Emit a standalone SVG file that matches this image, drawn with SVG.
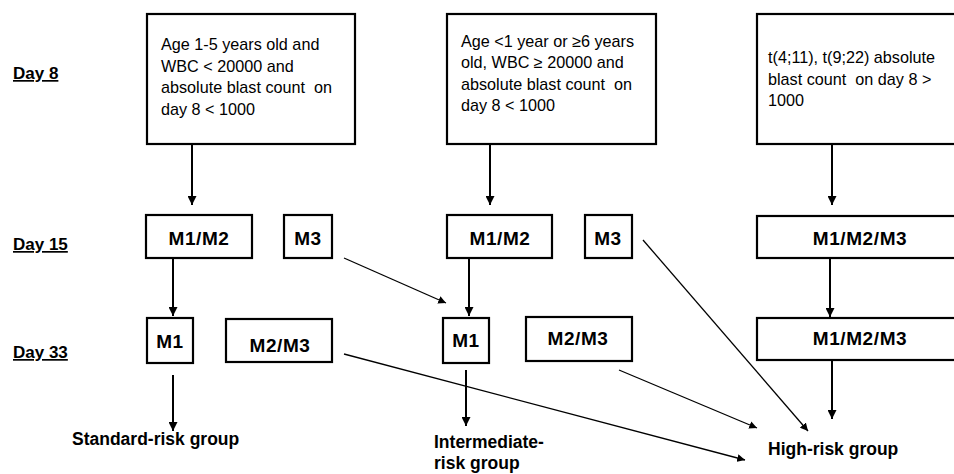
<svg xmlns="http://www.w3.org/2000/svg" width="954" height="474" viewBox="0 0 954 474">
<style>
.box{fill:#fff;stroke:#000;stroke-width:2.2}
.t{font-family:"Liberation Sans",Arial,sans-serif;font-size:16.2px;fill:#000;white-space:pre}
.b{font-family:"Liberation Sans",Arial,sans-serif;font-size:19px;font-weight:bold;fill:#000;text-anchor:middle;letter-spacing:0.6px}
.g{font-family:"Liberation Sans",Arial,sans-serif;font-size:17.5px;font-weight:bold;fill:#000}
.day{font-family:"Liberation Sans",Arial,sans-serif;font-size:17px;font-weight:bold;fill:#000;text-decoration:underline}
.thick{stroke:#000;stroke-width:2;fill:none;marker-end:url(#ah)}
.thin{stroke:#000;stroke-width:1.3;fill:none;marker-end:url(#ah2)}
</style>
<defs>
<marker id="ah" viewBox="0 0 10 10" refX="10" refY="5" markerWidth="4.5" markerHeight="4.5" orient="auto" markerUnits="strokeWidth">
<path d="M0,0 L10,5 L0,10 z" fill="#000"/>
</marker>
<marker id="ah2" viewBox="0 0 10 10" refX="10" refY="5" markerWidth="6" markerHeight="6" orient="auto" markerUnits="strokeWidth">
<path d="M0,0 L10,5 L0,10 z" fill="#000"/>
</marker>
</defs>
<rect width="954" height="474" fill="#fff"/>

<g id="day-labels">
<text class="day" x="13" y="79">Day 8</text>
<text class="day" x="13" y="250">Day 15</text>
<text class="day" x="13" y="358">Day 33</text>
</g>

<g id="box1">
<rect class="box" x="147" y="14" width="208" height="130"/>
<text class="t" x="161" y="50">Age 1-5 years old and</text>
<text class="t" x="161" y="72">WBC &lt; 20000 and</text>
<text class="t" x="161" y="93">absolute blast count  on</text>
<text class="t" x="161" y="115">day 8 &lt; 1000</text>
</g>
<g id="box2">
<rect class="box" x="447" y="14" width="209" height="130"/>
<text class="t" x="461" y="47">Age &lt;1 year or ≥6 years</text>
<text class="t" x="461" y="68">old, WBC ≥ 20000 and</text>
<text class="t" x="461" y="90">absolute blast count  on</text>
<text class="t" x="461" y="111">day 8 &lt; 1000</text>
</g>
<g id="box3">
<rect class="box" x="757" y="14" width="210" height="130"/>
<text class="t" x="768" y="63">t(4;11), t(9;22) absolute</text>
<text class="t" x="768" y="85">blast count  on day 8 &gt;</text>
<text class="t" x="768" y="106">1000</text>
</g>

<g id="l15a"><rect class="box" x="146" y="215" width="106" height="43"/><text class="b" x="199" y="245">M1/M2</text></g>
<g id="l15b"><rect class="box" x="284" y="215" width="48" height="43"/><text class="b" x="308" y="245">M3</text></g>
<g id="m15a"><rect class="box" x="447" y="215" width="105" height="43"/><text class="b" x="500" y="245">M1/M2</text></g>
<g id="m15b"><rect class="box" x="585" y="215" width="47" height="43"/><text class="b" x="608" y="245">M3</text></g>
<g id="r15"><rect class="box" x="757" y="216" width="210" height="42"/><text class="b" x="860" y="245">M1/M2/M3</text></g>

<g id="l33a"><rect class="box" x="147" y="318" width="46" height="45"/><text class="b" x="170" y="348">M1</text></g>
<g id="l33b"><rect class="box" x="226" y="319" width="106" height="43"/><text class="b" x="280" y="352">M2/M3</text></g>
<g id="m33a"><rect class="box" x="443" y="318" width="46" height="45"/><text class="b" x="466" y="347">M1</text></g>
<g id="m33b"><rect class="box" x="526" y="317" width="106" height="44"/><text class="b" x="578" y="345">M2/M3</text></g>
<g id="r33"><rect class="box" x="757" y="318" width="210" height="42"/><text class="b" x="860" y="345">M1/M2/M3</text></g>

<g id="outcomes">
<text class="g" x="72" y="445">Standard-risk group</text>
<text class="g" x="434" y="448">Intermediate-</text>
<text class="g" x="434" y="469">risk group</text>
<text class="g" x="768" y="455">High-risk group</text>
</g>

<g id="connectors">
<line class="thick" x1="192" y1="145" x2="192" y2="205"/>
<line class="thick" x1="490" y1="145" x2="490" y2="205"/>
<line class="thick" x1="832" y1="145" x2="832" y2="205"/>
<line class="thick" x1="173" y1="259" x2="173" y2="316"/>
<line class="thick" x1="469" y1="259" x2="469" y2="316"/>
<line class="thick" x1="830" y1="259" x2="830" y2="317"/>
<line class="thick" x1="173" y1="375" x2="173" y2="431"/>
<line class="thick" x1="466" y1="370" x2="466" y2="426"/>
<line class="thick" x1="832" y1="361" x2="832" y2="419"/>
<line class="thin" x1="344" y1="258" x2="446" y2="303"/>
<line class="thin" x1="344" y1="354" x2="745" y2="460"/>
<line class="thin" x1="619" y1="370" x2="757" y2="428"/>
<line class="thin" x1="643" y1="240" x2="808" y2="431"/>
</g>
</svg>
